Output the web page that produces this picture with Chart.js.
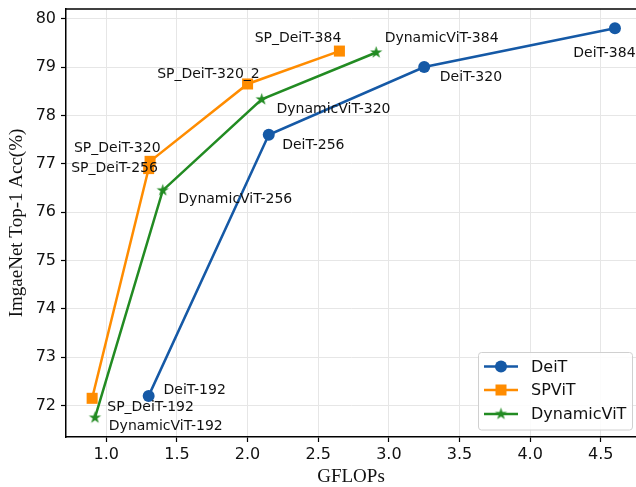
<!DOCTYPE html>
<html>
<head>
<meta charset="utf-8">
<script src="https://cdn.jsdelivr.net/npm/chart.js@4.4.1/dist/chart.umd.min.js"></script>
<style>
html, body { margin: 0; padding: 0; overflow: hidden; background: #fff; }
#myChart { display: block; }
</style>
</head>
<body>
<canvas id="myChart" width="636" height="487"></canvas>
<script>
// GFLOPs vs top-1 accuracy
const deitX = [1.3, 2.15, 3.25, 4.6]
const deitY = [72.2, 77.6, 79.0, 79.8]
const deitNames = ['DeiT-192', 'DeiT-256', 'DeiT-320', 'DeiT-384']
const deitLabelX = [1.405, 2.245, 3.36, 4.305]
const deitLabelY = [72.31, 77.39, 78.79, 79.29]

const spvitX = [0.9, 1.3, 1.31, 2.0, 2.65]
const spvitY = [72.15, 76.9, 77.05, 78.65, 79.33]
const spvitNames = ['SP_DeiT-192', 'SP_DeiT-256', 'SP_DeiT-320', 'SP_DeiT-320_2', 'SP_DeiT-384']
const spvitLabelX = [1.007, 0.752, 0.771, 1.36, 2.05]
const spvitLabelY = [71.97, 76.90, 77.31, 78.84, 79.59]

const dynX = [0.92, 1.4, 2.1, 2.91]
const dynY = [71.75, 76.45, 78.33, 79.3]
const dynNames = ['DynamicViT-192', 'DynamicViT-256', 'DynamicViT-320', 'DynamicViT-384']
const dynLabelX = [1.018, 1.51, 2.205, 2.97]
const dynLabelY = [71.56, 76.26, 78.13, 79.59]

const xTicks = [1.0, 1.5, 2.0, 2.5, 3.0, 3.5, 4.0, 4.5]
const yTicks = [72, 73, 74, 75, 76, 77, 78, 79, 80]

const BLUE = '#1559a6'
const ORANGE = '#ff8c00'
const GREEN = '#228b22'

function toPoints(xs, ys) {
  return xs.map((v, i) => ({ x: v, y: ys[i] }))
}

// filled five point star, chart.js 'star' is only an asterisk
function makeStar(color, r) {
  const c = document.createElement('canvas')
  const s = Math.ceil(r * 2 + 2)
  c.width = s
  c.height = s
  const g = c.getContext('2d')
  g.fillStyle = color
  g.beginPath()
  for (let i = 0; i < 10; i++) {
    const rad = i % 2 === 0 ? r : r * 0.382
    const a = -Math.PI / 2 + i * Math.PI / 5
    const px = s / 2 + rad * Math.cos(a)
    const py = s / 2 + rad * Math.sin(a)
    if (i === 0) g.moveTo(px, py)
    else g.lineTo(px, py)
  }
  g.closePath()
  g.fill()
  return c
}
const starImg = makeStar(GREEN, 6.5)

const labelSets = [
  [deitNames, deitLabelX, deitLabelY],
  [spvitNames, spvitLabelX, spvitLabelY],
  [dynNames, dynLabelX, dynLabelY]
]

const pointLabels = {
  id: 'pointLabels',
  afterDatasetsDraw(chart) {
    const ctx = chart.ctx
    const x = chart.scales.x
    const y = chart.scales.y
    ctx.save()
    ctx.font = '14px "DejaVu Sans"'
    ctx.fillStyle = '#111'
    ctx.textAlign = 'left'
    ctx.textBaseline = 'middle'
    labelSets.forEach(set => {
      set[0].forEach((name, i) => {
        ctx.fillText(name, x.getPixelForValue(set[1][i]), y.getPixelForValue(set[2][i]))
      })
    })
    ctx.restore()
  }
}

const frameAndLegend = {
  id: 'frameAndLegend',
  afterDraw(chart) {
    const ctx = chart.ctx
    const a = chart.chartArea
    ctx.save()
    // top spine; the plot runs off the right edge like the original
    ctx.strokeStyle = '#000'
    ctx.lineWidth = 1.5
    ctx.beginPath()
    ctx.moveTo(a.left, a.top)
    ctx.lineTo(a.right, a.top)
    ctx.stroke()

    // legend box, lower right inside the axes
    const bx = 478.5, by = 352.5, bw = 154, bh = 77.5
    ctx.fillStyle = 'rgba(255,255,255,0.85)'
    ctx.strokeStyle = '#d0d0d0'
    ctx.lineWidth = 1
    ctx.beginPath()
    ctx.roundRect(bx, by, bw, bh, 3)
    ctx.fill()
    ctx.stroke()

    const rows = [366.5, 390, 414]
    chart.data.datasets.forEach((ds, i) => {
      const ry = rows[i]
      ctx.strokeStyle = ds.borderColor
      ctx.lineWidth = 2.5
      ctx.beginPath()
      ctx.moveTo(484, ry)
      ctx.lineTo(518, ry)
      ctx.stroke()
      ctx.fillStyle = ds.borderColor
      if (ds.pointStyle === 'circle') {
        ctx.beginPath()
        ctx.arc(501, ry, 6, 0, Math.PI * 2)
        ctx.fill()
      } else if (ds.pointStyle === 'rect') {
        ctx.fillRect(495.5, ry - 5.5, 11, 11)
      } else {
        ctx.drawImage(starImg, 501 - starImg.width / 2, ry - starImg.height / 2)
      }
      ctx.fillStyle = '#111'
      ctx.font = '16px "DejaVu Sans"'
      ctx.textAlign = 'left'
      ctx.textBaseline = 'middle'
      ctx.fillText(ds.label, 531, ry + 1)
    })
    ctx.restore()
  }
}

// keep chart.js from reserving half-label room at the axis ends
function noEndPadding(s) {
  s.paddingTop = 0
  s.paddingBottom = 0
  s.paddingLeft = 0
  s.paddingRight = 0
}

Chart.defaults.font.family = '"DejaVu Sans"'
Chart.defaults.color = '#111'

var ctx = document.getElementById('myChart').getContext('2d')
var chart = new Chart(ctx, {
  type: 'scatter',
  data: {
    datasets: [
      {
        label: 'DeiT',
        data: toPoints(deitX, deitY),
        showLine: true,
        borderColor: BLUE,
        backgroundColor: BLUE,
        borderWidth: 2.5,
        pointStyle: 'circle',
        pointRadius: 6,
        pointBorderWidth: 0,
        order: 3
      },
      {
        label: 'SPViT',
        data: toPoints(spvitX, spvitY),
        showLine: true,
        borderColor: ORANGE,
        backgroundColor: ORANGE,
        borderWidth: 2.5,
        pointStyle: 'rect',
        pointRadius: 7.8,
        pointBorderWidth: 0,
        order: 2
      },
      {
        label: 'DynamicViT',
        data: toPoints(dynX, dynY),
        showLine: true,
        borderColor: GREEN,
        backgroundColor: GREEN,
        borderWidth: 2.5,
        pointStyle: starImg,
        pointRadius: 6,
        order: 1
      }
    ]
  },
  options: {
    responsive: false,
    animation: false,
    layout: { autoPadding: false, padding: { top: 9, right: 0, bottom: 0, left: 0 } },
    plugins: {
      legend: { display: false },
      tooltip: { enabled: false }
    },
    scales: {
      x: {
        type: 'linear',
        min: 0.715,
        max: 4.749,
        afterBuildTicks: s => { s.ticks = xTicks.map(v => ({ value: v })) },
        afterFit: s => { s.height = 50; noEndPadding(s) },
        ticks: {
          font: { size: 16 },
          padding: 3,
          callback: v => v.toFixed(1)
        },
        grid: { color: '#e6e6e6', lineWidth: 1, tickLength: 5, tickColor: '#000', tickWidth: 1.2 },
        border: { color: '#000', width: 1.5 },
        title: {
          display: true,
          text: 'GFLOPs',
          font: { family: '"Liberation Serif"', size: 19, lineHeight: 1 },
          padding: { top: 0, bottom: 0 }
        }
      },
      y: {
        type: 'linear',
        min: 71.35,
        max: 80.2,
        afterBuildTicks: s => { s.ticks = yTicks.map(v => ({ value: v })) },
        afterFit: s => { s.width = 66; noEndPadding(s) },
        ticks: {
          font: { size: 16 },
          padding: 5,
          callback: v => String(v)
        },
        grid: { color: '#e6e6e6', lineWidth: 1, tickLength: 5, tickColor: '#000', tickWidth: 1.2 },
        border: { color: '#000', width: 1.5 },
        title: {
          display: true,
          text: 'ImgaeNet Top-1 Acc(%)',
          font: { family: '"Liberation Serif"', size: 19, lineHeight: 1 },
          padding: { top: 8, bottom: 0 }
        }
      }
    }
  },
  plugins: [pointLabels, frameAndLegend]
})
</script>
</body>
</html>
